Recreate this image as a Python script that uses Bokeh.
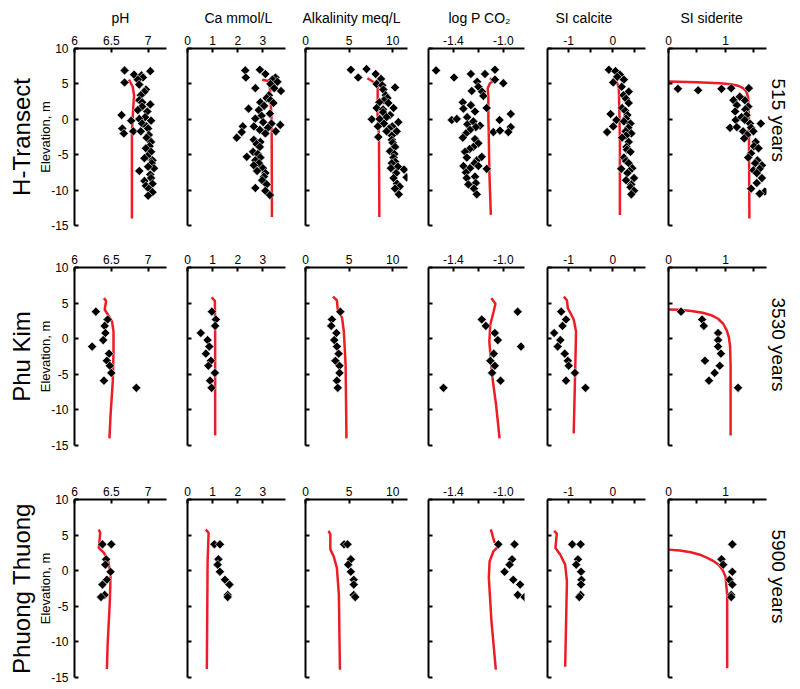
from bokeh.plotting import figure
from bokeh.layouts import row, column
from bokeh.models import Range1d, FixedTicker, Title
from bokeh.embed import file_html
from bokeh.resources import INLINE

# ---------------- data ----------------
variables = ["pH", "Ca mmol/L", "Alkalinity meq/L", "log P CO\u2082", "SI calcite", "SI siderite"]
sites = ["H-Transect", "Phu Kim", "Phuong Thuong"]
ages = ["515 years", "3530 years", "5900 years"]
elev_ticks = [-15, -10, -5, 0, 5, 10]
elev_labels = ["-15", "-10", "-5", "0", "5", "10"]
x_major_ticks = [[6, 6.5, 7], [0, 1, 2, 3], [0, 5, 10], [-1.4, -1.0], [-1, 0], [0, 1]]
x_minor_ticks = [[], [], [], [-1.2], [-0.5, 0.5], [0.5, 1.5]]
x_tick_labels = [["6", "6.5", "7"], ["0", "1", "2", "3"], ["0", "5", "10"],
                 ["-1.4", "-1.0"], ["-1", "0"], ["0", "1"]]
x_ranges = [(6.0, 7.25), (0.0, 3.9), (0.0, 11.7), (-1.6, -0.83), (-1.48, 0.74), (0.0, 1.72)]

# H-Transect observations (value, elevation m)
ht_ph_val = [6.68, 6.81, 6.91, 7.03, 6.93, 6.68, 6.86, 6.88, 6.97, 6.95, 6.90, 6.88, 6.92, 7.03, 6.92, 6.86, 6.99,
             6.64, 6.96, 7.04, 6.88, 6.77, 6.92, 6.98, 6.65, 7.00, 6.80, 6.90, 6.67, 7.01, 6.98, 7.04, 7.02, 6.97,
             7.04, 6.99, 6.95, 7.06, 7.05, 7.08, 7.00, 6.88, 7.03, 7.04, 6.95, 7.06, 6.97, 7.01, 7.06, 7.00]
ht_ph_elev = [6.9, 6.3, 6.2, 6.8, 5.9, 5.2, 5.6, 4.9, 4.2, 3.9, 3.4, 2.7, 2.4, 2.1, 1.8, 1.3, 1.1, 0.6, 0.3, -0.2,
              0.05, -0.2, -0.6, -1.0, -1.3, -1.3, -1.7, -1.7, -2.0, -2.2, -2.6, -3.2, -3.8, -4.1, -4.6, -5.2, -5.5,
              -5.8, -6.2, -6.9, -6.7, -7.3, -7.8, -8.3, -8.7, -9.1, -9.4, -9.8, -10.3, -10.8]
ht_ca_val = [2.30, 2.88, 2.32, 3.10, 3.50, 3.38, 3.58, 3.30, 2.70, 3.45, 3.72, 3.24, 3.15, 3.30, 2.90, 3.42, 3.05,
             2.43, 2.84, 3.28, 2.95, 2.70, 3.01, 3.34, 3.69, 2.64, 2.20, 3.20, 2.88, 3.51, 2.16, 3.10, 1.96, 2.64,
             2.90, 2.75, 2.88, 2.61, 2.80, 2.36, 2.90, 2.70, 2.85, 2.64, 3.00, 2.77, 3.10, 3.04, 2.97, 3.15, 2.70,
             3.10, 3.28]
ht_ca_elev = [6.9, 7.0, 5.9, 6.4, 5.9, 5.6, 5.3, 5.0, 4.4, 4.4, 4.0, 3.4, 3.0, 2.7, 2.4, 2.3, 1.9, 1.5, 1.3, 0.8,
              0.5, 0.1, -0.4, -0.6, -0.8, -1.0, -1.0, -1.2, -1.5, -1.7, -1.8, -2.0, -2.6, -2.9, -3.2, -3.5, -3.9,
              -4.6, -4.9, -5.3, -5.4, -5.8, -6.2, -6.5, -6.9, -7.3, -7.6, -8.1, -8.6, -9.2, -9.7, -10.1, -10.7]
ht_alk_val = [5.2, 7.0, 6.05, 8.05, 8.66, 8.16, 8.8, 10.27, 8.93, 9.2, 9.4, 9.0, 8.47, 9.5, 10.1, 8.16, 8.9, 8.9,
              9.7, 9.3, 7.6, 8.5, 10.65, 9.0, 9.96, 8.3, 9.6, 10.46, 9.3, 9.9, 8.35, 9.9, 10.0, 10.27, 9.7, 10.2,
              10.1, 10.3, 9.9, 10.6, 9.8, 11.3, 10.4, 11.6, 10.1, 10.5, 10.8, 10.27, 10.7]
ht_alk_elev = [7.0, 7.1, 5.9, 6.4, 5.7, 5.0, 4.8, 4.5, 4.2, 3.4, 3.0, 2.7, 2.4, 2.3, 1.6, 1.6, 1.4, 1.0, 0.6, 0.3,
               0.0, 0.05, -0.4, -0.6, -1.0, -1.0, -1.3, -1.7, -1.7, -2.3, -2.5, -2.9, -3.3, -3.9, -4.5, -4.9, -5.4,
               -6.0, -6.2, -6.7, -6.9, -7.1, -7.6, -8.2, -8.3, -9.1, -9.5, -9.8, -10.6]
ht_pco2_val = [-1.539, -1.395, -1.26, -1.147, -1.067, -1.067, -1.0, -1.21, -1.20, -1.253, -1.17, -1.16, -1.325,
               -1.26, -1.32, -1.227, -1.133, -1.413, -1.373, -1.29, -0.94, -1.03, -1.288, -1.24, -1.187, -1.22,
               -1.267, -1.08, -1.027, -0.94, -0.96, -1.30, -1.325, -1.227, -1.20, -1.24, -1.27, -1.307, -1.293,
               -1.213, -1.173, -1.23, -1.32, -1.267, -1.2, -1.133, -1.30, -1.293, -1.227, -1.22, -1.28, -1.235,
               -1.213]
ht_pco2_elev = [6.9, 5.9, 6.4, 6.4, 7.0, 5.6, 5.1, 5.3, 4.6, 4.0, 3.9, 3.3, 2.4, 2.0, 1.5, 1.1, 1.6, -0.1, 0.05,
                0.3, 0.75, -0.1, -0.7, -0.3, -0.9, -1.1, -1.5, -1.8, -1.6, -1.1, -1.8, -2.0, -2.6, -2.8, -3.4, -3.9,
                -4.2, -4.6, -5.4, -5.8, -5.3, -6.2, -6.6, -6.9, -6.6, -7.0, -7.5, -8.3, -8.1, -9.0, -9.2, -9.8,
                -10.6]
ht_sical_val = [-0.09, 0.06, 0.16, 0.10, 0.01, 0.25, 0.20, 0.36, 0.24, 0.30, 0.36, 0.21, 0.28, -0.05, 0.33, 0.30,
                0.08, 0.25, 0.40, 0.01, 0.35, -0.13, 0.29, 0.42, 0.30, 0.21, 0.36, 0.31, 0.32, 0.40, 0.25, 0.30,
                0.36, 0.19, 0.44, 0.38, 0.33, 0.48, 0.30, 0.42, 0.40, 0.48, 0.42]
ht_sical_elev = [7.0, 6.8, 6.3, 6.0, 5.2, 5.6, 4.6, 3.9, 3.4, 2.9, 2.3, 1.6, 1.2, 0.75, 0.6, 0.1, -0.1, -0.3, -0.6,
                 -1.0, -1.2, -1.8, -1.7, -2.0, -2.3, -2.6, -3.2, -3.9, -4.3, -4.6, -5.4, -5.9, -6.2, -7.0, -6.9,
                 -7.3, -7.6, -8.3, -8.6, -9.2, -9.6, -10.1, -10.6]
ht_sisid_val = [0.165, 0.52, 0.93, 1.10, 1.41, 1.14, 1.20, 1.34, 1.25, 1.40, 1.17, 1.35, 1.37, 1.18, 1.28, 1.34,
                1.43, 1.62, 1.08, 1.20, 1.45, 1.31, 1.49, 1.38, 1.33, 1.53, 1.50, 1.58, 1.45, 1.40, 1.56, 1.52,
                1.64, 1.49, 1.60, 1.55, 1.64, 1.55, 1.45, 1.69, 1.60]
ht_sisid_elev = [4.3, 4.1, 4.3, 4.4, 4.4, 2.7, 2.0, 2.7, 3.2, 1.8, 1.1, 1.4, 0.6, -0.1, 0.3, -0.1, -0.6, -0.6,
                 -1.2, -1.1, -1.2, -1.7, -1.7, -2.2, -2.7, -3.2, -3.8, -4.1, -4.8, -5.4, -5.8, -6.2, -6.5, -7.2,
                 -7.0, -7.6, -8.3, -9.0, -9.8, -10.2, -10.5]

# H-Transect model curves
ht_ph_mod = [6.74, 6.79, 6.81, 6.80, 6.79, 6.78, 6.78]
ht_ph_mod_elev = [5.6, 4.6, 3.4, 2.0, 0.1, -1.7, -14.0]
ht_ca_mod = [2.97, 3.24, 3.28, 3.30, 3.34, 3.35, 3.36]
ht_ca_mod_elev = [5.6, 5.4, 4.4, 3.0, 0.6, -1.7, -13.8]
ht_alk_mod = [7.1, 7.9, 8.28, 8.28, 8.24, 8.35, 8.43, 8.47]
ht_alk_mod_elev = [5.8, 5.2, 4.6, 3.0, 1.1, -0.6, -2.7, -13.8]
ht_pco2_mod = [-1.107, -1.08, -1.107, -1.125, -1.12, -1.12, -1.117, -1.112, -1.10]
ht_pco2_mod_elev = [5.8, 5.4, 5.1, 4.4, 3.0, 0.1, -1.7, -7.4, -13.5]
ht_sical_mod = [-0.015, 0.10, 0.136, 0.15, 0.16, 0.16]
ht_sical_mod_elev = [5.8, 5.1, 4.4, 0.6, -3.2, -13.5]
ht_sisid_mod = [0.0, 0.5, 0.9, 1.1, 1.22, 1.30, 1.35, 1.38, 1.40, 1.41, 1.42]
ht_sisid_mod_elev = [5.35, 5.25, 5.1, 4.95, 4.75, 4.45, 4.1, 3.6, 3.0, 0.5, -14.0]

# Phu Kim observations (shared sample elevations)
pk_elev = [3.8, 2.7, 1.8, 0.8, -0.2, -1.1, -2.1, -3.1, -3.8, -4.8, -5.9, -6.9]
pk_ph = [6.29, 6.45, 6.41, 6.42, 6.39, 6.24, 6.47, 6.44, 6.48, 6.50, 6.40, 6.84]
pk_ca = [0.97, 1.13, 1.10, 0.53, 0.80, 0.87, 0.73, 0.93, 0.83, 1.09, 0.90, 0.96]
pk_alk = [4.0, 3.03, 2.95, 3.54, 3.3, 3.6, 3.8, 3.43, 3.9, 3.9, 3.6, 3.7]
pk_pco2 = [-0.885, -1.173, -1.14, -1.068, -1.044, -0.858, -1.077, -1.104, -1.068, -1.09, -1.022, -1.48]
pk_sical = [-1.17, -1.06, -1.14, -1.33, -1.19, -1.25, -1.09, -1.02, -1.0, -0.86, -1.06, -0.62]
pk_sisid = [0.22, 0.59, 0.62, 0.87, 0.87, 0.87, 0.92, 0.64, 0.90, 0.81, 0.71, 1.22]

# Phu Kim model curves
pk_ph_mod = [6.40, 6.43, 6.41, 6.47, 6.51, 6.53, 6.53, 6.52, 6.49, 6.475]
pk_ph_mod_elev = [5.7, 5.3, 4.1, 3.1, 2.4, 1.0, -1.8, -6.0, -10.7, -14.0]
pk_ca_mod = [0.96, 1.09, 1.10, 1.10]
pk_ca_mod_elev = [5.8, 5.3, 1.0, -13.6]
pk_alk_mod = [3.15, 3.6, 3.7, 4.2, 4.4, 4.6, 4.7]
pk_alk_mod_elev = [5.9, 5.4, 4.1, 2.9, 1.0, -3.7, -14.0]
pk_pco2_mod = [-1.096, -1.063, -1.077, -1.104, -1.112, -1.09, -1.058, -1.03]
pk_pco2_mod_elev = [5.7, 4.9, 3.85, 2.0, -0.4, -5.1, -9.3, -14.0]
pk_sical_mod = [-1.11, -1.04, -1.02, -0.886, -0.833, -0.85, -0.886]
pk_sical_mod_elev = [5.9, 5.4, 4.3, 2.7, 1.0, -3.7, -13.3]
pk_sisid_mod = [0.0, 0.2, 0.4, 0.6, 0.75, 0.87, 0.96, 1.02, 1.06, 1.08, 1.09, 1.09]
pk_sisid_mod_elev = [4.1, 4.05, 3.9, 3.65, 3.3, 2.8, 2.1, 1.2, 0.2, -1.0, -3.7, -13.6]

# Phuong Thuong observations (shared sample elevations)
pt_elev = [3.7, 3.7, 1.6, 0.85, -0.15, -1.27, -1.95, -3.4, -3.7]
pt_ph = [6.38, 6.50, 6.43, 6.42, 6.49, 6.44, 6.38, 6.41, 6.36]
pt_ca = [1.07, 1.29, 1.23, 1.20, 1.29, 1.49, 1.67, 1.60, 1.60]
pt_alk = [4.43, 4.82, 5.2, 4.9, 5.2, 5.53, 5.53, 5.53, 5.7]
pt_pco2 = [-1.04, -0.91, -0.93, -0.95, -0.99, -0.92, -0.865, -0.884, -0.83]
pt_sical = [-0.92, -0.73, -0.79, -0.83, -0.72, -0.71, -0.72, -0.73, -0.76]
pt_sisid = [1.12, 1.12, 0.93, 0.96, 1.12, 1.07, 1.12, 1.10, 1.10]

# Phuong Thuong model curves
pt_ph_mod = [6.33, 6.35, 6.33, 6.40, 6.46, 6.49, 6.48, 6.45, 6.44]
pt_ph_mod_elev = [5.8, 5.3, 3.2, 2.5, 1.3, -0.6, -4.3, -10.4, -13.8]
pt_ca_mod = [0.73, 0.84, 0.80, 0.77]
pt_ca_mod_elev = [5.8, 5.3, 1.3, -13.8]
pt_alk_mod = [2.65, 2.85, 2.85, 3.24, 3.6, 3.83, 3.95]
pt_alk_mod_elev = [5.6, 5.1, 3.0, 2.0, 0.4, -3.4, -13.9]
pt_pco2_mod = [-1.10, -1.073, -1.04, -1.08, -1.11, -1.116, -1.095, -1.06]
pt_pco2_mod_elev = [5.8, 4.1, 3.4, 2.7, 1.3, -1.0, -7.1, -13.9]
pt_sical_mod = [-1.33, -1.27, -1.30, -1.19, -1.08, -1.04, -1.08]
pt_sical_mod_elev = [5.6, 5.2, 3.2, 2.25, 0.85, -1.5, -13.5]
pt_sisid_mod = [0.0, 0.2, 0.39, 0.55, 0.68, 0.80, 0.88, 0.95, 1.0, 1.03, 1.03]
pt_sisid_mod_elev = [2.96, 2.85, 2.6, 2.25, 1.8, 1.3, 0.85, 0.1, -0.8, -3.4, -13.7]

# --------------- assemble panel table ---------------
obs = [
    [(ht_ph_val, ht_ph_elev), (ht_ca_val, ht_ca_elev), (ht_alk_val, ht_alk_elev),
     (ht_pco2_val, ht_pco2_elev), (ht_sical_val, ht_sical_elev), (ht_sisid_val, ht_sisid_elev)],
    [(pk_ph, pk_elev), (pk_ca, pk_elev), (pk_alk, pk_elev),
     (pk_pco2, pk_elev), (pk_sical, pk_elev), (pk_sisid, pk_elev)],
    [(pt_ph, pt_elev), (pt_ca, pt_elev), (pt_alk, pt_elev),
     (pt_pco2, pt_elev), (pt_sical, pt_elev), (pt_sisid, pt_elev)],
]
models = [
    [(ht_ph_mod, ht_ph_mod_elev), (ht_ca_mod, ht_ca_mod_elev), (ht_alk_mod, ht_alk_mod_elev),
     (ht_pco2_mod, ht_pco2_mod_elev), (ht_sical_mod, ht_sical_mod_elev), (ht_sisid_mod, ht_sisid_mod_elev)],
    [(pk_ph_mod, pk_ph_mod_elev), (pk_ca_mod, pk_ca_mod_elev), (pk_alk_mod, pk_alk_mod_elev),
     (pk_pco2_mod, pk_pco2_mod_elev), (pk_sical_mod, pk_sical_mod_elev), (pk_sisid_mod, pk_sisid_mod_elev)],
    [(pt_ph_mod, pt_ph_mod_elev), (pt_ca_mod, pt_ca_mod_elev), (pt_alk_mod, pt_alk_mod_elev),
     (pt_pco2_mod, pt_pco2_mod_elev), (pt_sical_mod, pt_sical_mod_elev), (pt_sisid_mod, pt_sisid_mod_elev)],
]

# --------------- layout / style ---------------
FONT = "Liberation Sans"
FRAME_W = [92, 98, 102, 96, 98, 98]
LEFT_B = [74, 12, 12, 12, 12, 12]
RIGHT_B = [9, 8, 9, 11, 11, 26]
FRAME_H = [177, 178, 178]
TOP_B = [48, 22, 22]
BOTTOM_B = [20, 32, 8]
HEADER_ALIGN = ["center", "left", "left", "left", "left", "left"]
HEADER_OFFSET = [0, 17, -3, 20, 8, 12]
RED = "#ee1c25"


def style_axis(ax):
    ax.axis_line_width = 2
    ax.axis_line_color = "black"
    ax.major_tick_in = 4
    ax.major_tick_out = 0
    ax.minor_tick_in = 4
    ax.minor_tick_out = 0
    ax.major_tick_line_width = 2
    ax.minor_tick_line_width = 2
    ax.major_tick_line_color = "black"
    ax.minor_tick_line_color = "black"
    ax.major_label_text_font = FONT
    ax.major_label_text_font_size = "12px"
    ax.major_label_text_color = "black"


def make_panel(r, c):
    p = figure(frame_width=FRAME_W[c], frame_height=FRAME_H[r],
               x_range=Range1d(*x_ranges[c]), y_range=Range1d(-15, 10),
               x_axis_location="above", y_axis_location="left",
               output_backend="svg", toolbar_location=None,
               min_border_left=LEFT_B[c], min_border_right=RIGHT_B[c],
               min_border_top=TOP_B[r], min_border_bottom=BOTTOM_B[r])
    p.outline_line_color = None
    p.xgrid.visible = False
    p.ygrid.visible = False

    xa = p.xaxis[0]
    style_axis(xa)
    xa.ticker = FixedTicker(ticks=x_major_ticks[c], minor_ticks=x_minor_ticks[c])
    xa.major_label_overrides = dict(zip(x_major_ticks[c], x_tick_labels[c]))
    xa.major_label_standoff = 4

    ya = p.yaxis[0]
    style_axis(ya)
    ya.ticker = FixedTicker(ticks=elev_ticks)
    if c == 0:
        ya.major_label_overrides = dict(zip(elev_ticks, elev_labels))
        ya.major_label_standoff = 6
        ya.axis_label = "Elevation, m"
        ya.axis_label_text_font = FONT
        ya.axis_label_text_font_size = "13px"
        ya.axis_label_text_font_style = "normal"
        ya.axis_label_text_color = "black"
        ya.axis_label_standoff = -5
        p.add_layout(Title(text=sites[r], align="center", text_font=FONT, text_font_size="24px",
                           text_font_style="normal", text_color="black", standoff=2), "left")
    else:
        ya.major_label_overrides = {t: "" for t in elev_ticks}
        ya.major_label_standoff = 0

    if c == 5:
        p.add_layout(Title(text=ages[r], align="left", offset=30, text_font=FONT, text_font_size="19px",
                           text_font_style="normal", text_color="black", standoff=2), "right")

    if r == 0:
        p.title.text = variables[c]
        p.title.align = HEADER_ALIGN[c]
        p.title.offset = HEADER_OFFSET[c]
        p.title.text_font = FONT
        p.title.text_font_size = "14px"
        p.title.text_font_style = "normal"
        p.title.text_color = "black"
        p.title.standoff = 14

    mx, mz = models[r][c]
    p.line(mx, mz, line_color=RED, line_width=2.5)
    ox, oz = obs[r][c]
    p.scatter(ox, oz, marker="square", angle=0.785398, size=6.5, fill_color="black",
              line_color="white", line_width=0.6)
    return p


rows = []
for r in range(3):
    rows.append(row([make_panel(r, c) for c in range(6)], spacing=0))
layout = column(rows, spacing=0)

open("out.html", "w").write(file_html(layout, INLINE))
